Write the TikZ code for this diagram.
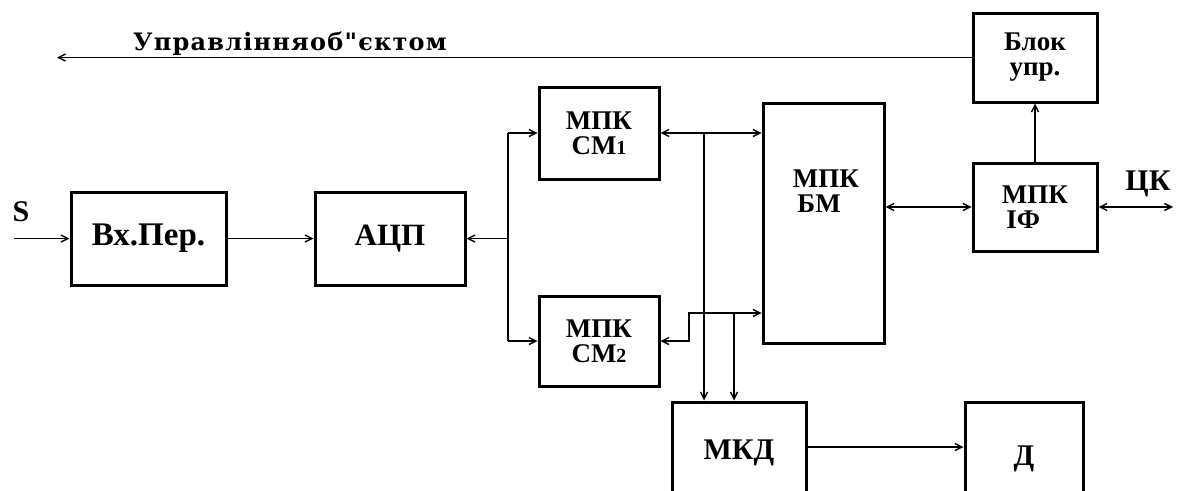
\documentclass[tikz,border=0pt]{standalone}
\usepackage{fontspec}
\setmainfont{Liberation Serif}
\newfontfamily\spfont[LetterSpace=5]{DejaVu Serif}
\usetikzlibrary{arrows.meta}
\tikzset{
  blockbox/.style={draw, line width=3pt, inner sep=0pt, align=center, font=\fontsize{27}{25}\selectfont\bfseries},
  conn/.style={line width=1.4pt, arrows={-{Straight Barb[length=7pt,width=7pt]}}},
  conn2/.style={line width=1.4pt, arrows={{Straight Barb[length=7pt,width=7pt]}-{Straight Barb[length=7pt,width=7pt]}}},
  conn0/.style={line width=1.4pt},
  lbl/.style={inner sep=0pt, font=\fontsize{30}{30}\selectfont\bfseries}
}
\begin{document}
\begin{tikzpicture}[x=1pt,y=-1pt]
\useasboundingbox (0,0) rectangle (1177,490);
\clip (0,0) rectangle (1177,490);
\fill[white] (0,0) rectangle (1177,490);
% blocks
\node[blockbox, minimum width=155pt, minimum height=93pt, font=\fontsize{33}{33}\selectfont\bfseries] (vx) at (148.5,238.5) {Вх.Пер.};
\node[blockbox, minimum width=150pt, minimum height=93pt, font=\fontsize{31}{31}\selectfont\bfseries] (adc) at (390,238.5) {АЦП};
\node[blockbox, minimum width=120pt, minimum height=92pt] (sm1) at (599,133) {МПК\\СМ{\fontsize{20}{20}\selectfont 1}};
\node[blockbox, minimum width=120pt, minimum height=90pt] (sm2) at (599,341) {МПК\\СМ{\fontsize{20}{20}\selectfont 2}};
\node[blockbox, minimum width=121pt, minimum height=240pt] (bm) at (823.5,223) {};
\node[inner sep=0pt, align=left, font=\fontsize{27}{25}\selectfont\bfseries] (bmlabel) at (826,191) {МПК\\\,БМ};
\node[blockbox, minimum width=124pt, minimum height=88pt, align=left] (if) at (1035,207) {МПК\\\,IФ};
\node[blockbox, minimum width=124pt, minimum height=89pt] (blk) at (1035,57.5) {Блок\\упр.};
\node[blockbox, minimum width=134pt, minimum height=102pt, font=\fontsize{30}{30}\selectfont\bfseries] (mkd) at (739,453) {МКД};
\node[blockbox, minimum width=118pt, minimum height=114pt, font=\fontsize{30}{30}\selectfont\bfseries] (d) at (1024,459) {Д};
% labels
\node[lbl] (slabel) at (21,212) {S};
\node[lbl] (cklabel) at (1148,184) {ЦК};
\node[inner sep=0pt, font=\fontsize{24}{24}\selectfont\bfseries\spfont] (title) at (290,44) {Управлінняоб"єктом};
% coordinates
\coordinate (sin) at (14,238.5);
\coordinate (bus) at (508,238.5);
\coordinate (b1) at (508,133);
\coordinate (b2) at (508,341);
\coordinate (j1) at (704,133);
\coordinate (k) at (689,313);
\coordinate (j2) at (734,313);
\coordinate (ck) at (1173,207);
\coordinate (out) at (57,57.5);
\path (mkd.east) ++(0,-6) coordinate (m1);
% connectors
\draw[conn] (sin) -- (vx.west);
\draw[conn] (vx.east) -- (adc.west);
\draw[conn] (bus) -- (adc.east);
\draw[conn0] (b1) -- (b2);
\draw[conn] (b1) -- (sm1.west);
\draw[conn] (b2) -- (sm2.west);
\draw[conn2] (sm1.east) -- (sm1.east -| bm.west);
\draw[conn] (j1) -- (j1 |- mkd.north);
\draw[conn2] (sm2.east) -| (k) -- (k -| bm.west);
\draw[conn] (j2) -- (j2 |- mkd.north);
\draw[conn2] (if.west -| bm.east) -- (if.west);
\draw[conn2] (if.east) -- (ck);
\draw[conn] (if.north) -- (blk.south);
\draw[conn] (blk.west) -- (out);
\draw[conn] (m1) -- (m1 -| d.west);
\end{tikzpicture}
\end{document}
